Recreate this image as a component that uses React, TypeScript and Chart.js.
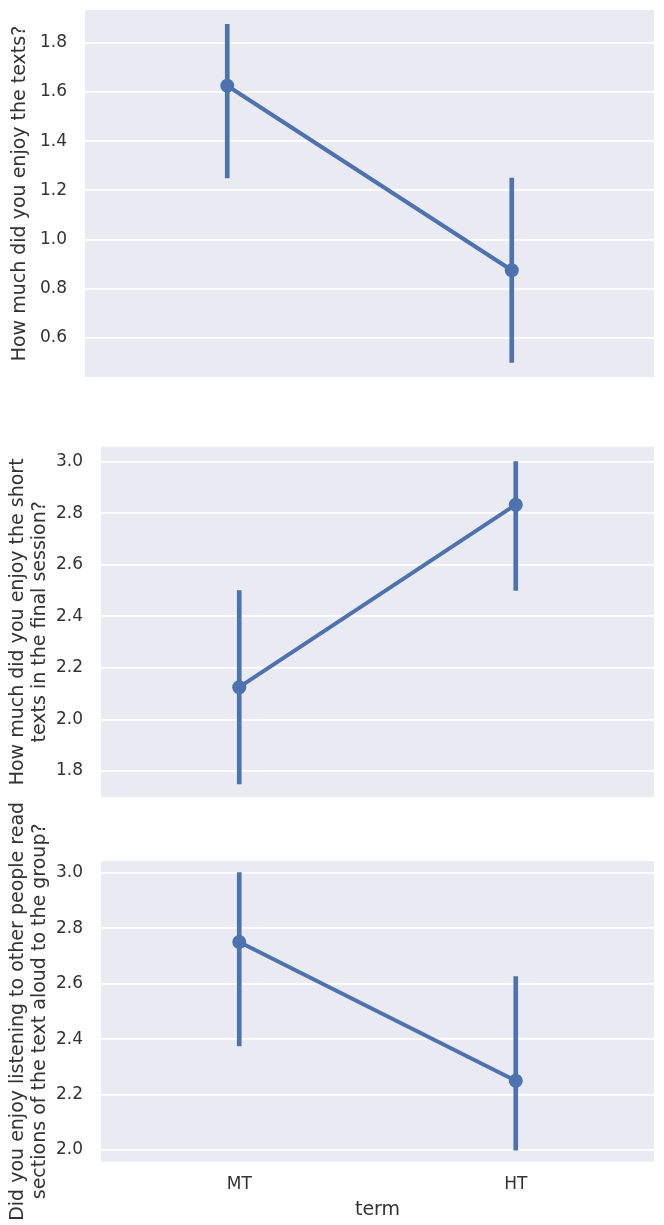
import React, { useEffect, useRef } from 'react';
import { Chart, registerables } from 'chart.js';

Chart.register(...registerables);

// ---- data ----
const categories = ['MT', 'HT'];
const xAxisTitle = 'term';

const enjoyTextsTitle = 'How much did you enjoy the texts?';
const enjoyTextsMean = [1.625, 0.875];
const enjoyTextsLow = [1.25, 0.5];
const enjoyTextsHigh = [1.875, 1.25];
const enjoyTextsTicks = [0.6, 0.8, 1.0, 1.2, 1.4, 1.6, 1.8];

const shortTextsTitle = ['How much did you enjoy the short', 'texts in the final session?'];
const shortTextsMean = [2.125, 2.833];
const shortTextsLow = [1.75, 2.5];
const shortTextsHigh = [2.5, 3.0];
const shortTextsTicks = [1.8, 2.0, 2.2, 2.4, 2.6, 2.8, 3.0];

const readAloudTitle = ['Did you enjoy listening to other people read', 'sections of the text aloud to the group?'];
const readAloudMean = [2.75, 2.25];
const readAloudLow = [2.375, 2.0];
const readAloudHigh = [3.0, 2.625];
const readAloudTicks = [2.0, 2.2, 2.4, 2.6, 2.8, 3.0];

// ---- style ----
const BLUE = '#4c72b0';
const TEXT = '#333333';
const FONT = 'DejaVu Sans';

const bgPlugin = {
  id: 'plotBg',
  beforeDraw(chart: any) {
    const { ctx, chartArea: a } = chart;
    ctx.save();
    ctx.fillStyle = '#eaeaf2';
    ctx.fillRect(a.left, a.top, a.right - a.left, a.bottom - a.top);
    ctx.restore();
  },
};

type Panel = {
  title: string | string[];
  mean: number[];
  low: number[];
  high: number[];
  ticks: number[];
  min: number;
  max: number;
  top: number;
  height: number;
  padding: { top: number; right: number; bottom: number; left: number };
  yWidth: number;
  titlePad: number;
  showX: boolean;
  xHeight: number;
};

const panels: Panel[] = [
  {
    title: enjoyTextsTitle, mean: enjoyTextsMean, low: enjoyTextsLow, high: enjoyTextsHigh,
    ticks: enjoyTextsTicks, min: 0.441, max: 1.933,
    top: 0, height: 400, padding: { top: 10, right: 10, bottom: 23, left: 0 },
    yWidth: 85, titlePad: 9, showX: false, xHeight: 0,
  },
  {
    title: shortTextsTitle, mean: shortTextsMean, low: shortTextsLow, high: shortTextsHigh,
    ticks: shortTextsTicks, min: 1.699, max: 3.058,
    top: 420, height: 377, padding: { top: 26.7, right: 10, bottom: 0, left: 0 },
    yWidth: 101, titlePad: 7.6, showX: false, xHeight: 0,
  },
  {
    title: readAloudTitle, mean: readAloudMean, low: readAloudLow, high: readAloudHigh,
    ticks: readAloudTicks, min: 1.958, max: 3.042,
    top: 797, height: 428, padding: { top: 64, right: 10, bottom: 0, left: 0 },
    yWidth: 101, titlePad: 7.6, showX: true, xHeight: 63.3,
  },
];

function makeConfig(p: Panel): any {
  return {
    type: 'bar',
    data: {
      labels: categories,
      datasets: [
        {
          type: 'line',
          data: p.mean,
          borderColor: BLUE,
          backgroundColor: BLUE,
          borderWidth: 4,
          pointRadius: 7,
          pointBackgroundColor: BLUE,
          pointBorderWidth: 0,
          clip: false,
          order: 0,
        },
        {
          type: 'bar',
          data: p.low.map((l, i) => [l, p.high[i]]),
          backgroundColor: BLUE,
          borderWidth: 0,
          barThickness: 4,
          order: 1,
        },
      ],
    },
    options: {
      responsive: false,
      maintainAspectRatio: false,
      animation: false,
      layout: { padding: p.padding, autoPadding: false },
      plugins: { legend: { display: false }, tooltip: { enabled: false } },
      scales: {
        x: {
          type: 'category',
          offset: true,
          display: p.showX,
          grid: { display: false, drawTicks: false },
          border: { display: false },
          ticks: { padding: 13, color: TEXT, font: { family: FONT, size: 17 } },
          title: {
            display: true,
            text: xAxisTitle,
            color: TEXT,
            font: { family: FONT, size: 19, lineHeight: 1.15 },
            padding: { top: 0, bottom: 4 },
          },
          afterFit: (s: any) => {
            s.height = p.xHeight;
            s.paddingLeft = 0;
            s.paddingRight = 0;
          },
        },
        y: {
          min: p.min,
          max: p.max,
          grid: { color: '#ffffff', lineWidth: 1.8, drawTicks: false },
          border: { display: false },
          ticks: {
            padding: 18,
            color: TEXT,
            font: { family: FONT, size: 17 },
            callback: (v: any) => Number(v).toFixed(1),
          },
          afterBuildTicks: (s: any) => { s.ticks = p.ticks.map((v) => ({ value: v })); },
          afterFit: (s: any) => {
            s.width = p.yWidth;
            s.paddingTop = 0;
            s.paddingBottom = 0;
          },
          title: {
            display: true,
            text: p.title,
            color: TEXT,
            font: { family: FONT, size: 19, lineHeight: 1.15 },
            padding: { top: p.titlePad, bottom: 0 },
          },
        },
      },
    },
    plugins: [bgPlugin],
  };
}

function PanelChart({ p }: { p: Panel }) {
  const ref = useRef<HTMLCanvasElement | null>(null);
  useEffect(() => {
    if (!ref.current) return;
    const chart = new Chart(ref.current, makeConfig(p));
    return () => chart.destroy();
  }, [p]);
  return (
    <canvas
      ref={ref}
      width={664}
      height={p.height}
      style={{ position: 'absolute', left: 0, top: p.top, width: 664, height: p.height }}
    />
  );
}

export default function App() {
  return (
    <div style={{ position: 'absolute', left: 0, top: 0, width: 664, height: 1225, background: '#ffffff' }}>
      {panels.map((p, i) => (
        <PanelChart key={i} p={p} />
      ))}
    </div>
  );
}
